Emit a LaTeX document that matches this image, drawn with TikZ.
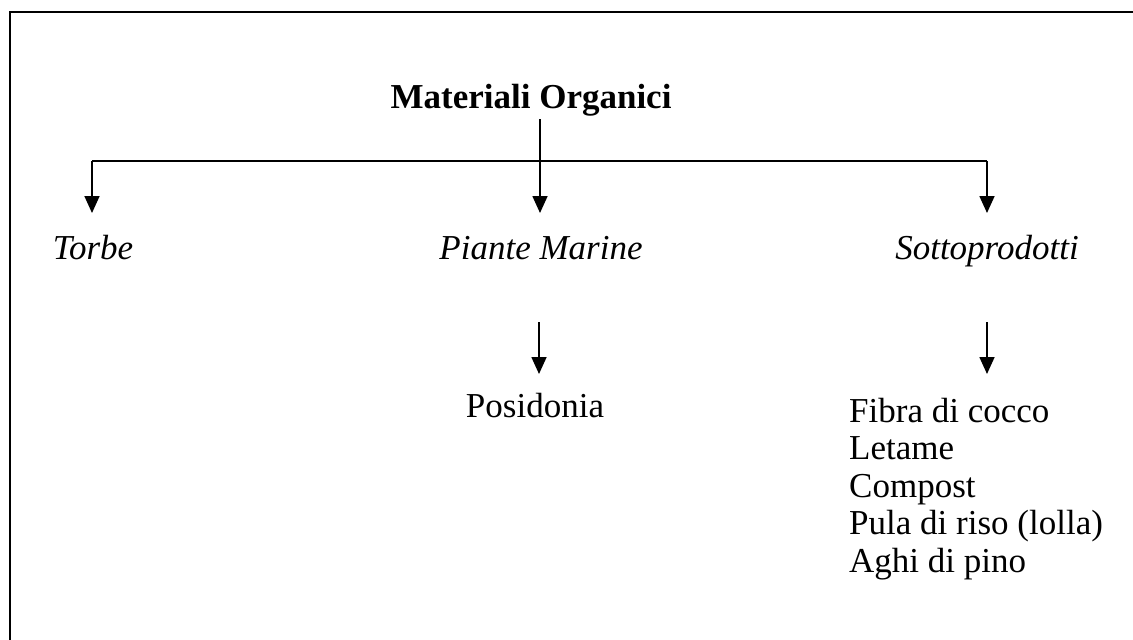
\documentclass[tikz,border=0pt]{standalone}
\usepackage{fontspec}
\setmainfont{Liberation Serif}
\usetikzlibrary{arrows.meta}
\begin{document}
\begin{tikzpicture}[x=1pt,y=-1pt,
  lbl/.style={inner sep=0pt,anchor=base,font=\fontsize{35}{37.5}\selectfont},
  lblw/.style={lbl,anchor=base west},
  conn/.style={line width=1.7pt,-{Triangle[width=15pt,length=17pt]}},
  plain/.style={line width=1.7pt},
  frame/.style={line width=2.6pt}]
\clip (0,0) rectangle (1133,640);
\draw[frame] (10,660) -- (10,12) -- (1160,12);
% title
\node[lbl,font=\fontsize{35}{37.5}\selectfont\bfseries] (title) at (531,108) {Materiali Organici};
% level 1
\node[lbl,font=\fontsize{35}{37.5}\selectfont\itshape] (torbe) at (93,259) {Torbe};
\node[lbl,font=\fontsize{35}{37.5}\selectfont\itshape] (piante) at (541,259) {Piante Marine};
\node[lbl,font=\fontsize{35}{37.5}\selectfont\itshape] (sotto) at (987,259) {Sottoprodotti};
% level 2
\node[lbl] (posid) at (535,417) {Posidonia};
\node[lblw] (l1) at (849,422) {Fibra di cocco};
\node[lblw] (l2) at (849,459.5) {Letame};
\node[lblw] (l3) at (849,497) {Compost};
\node[lblw] (l4) at (849,534.5) {Pula di riso (lolla)};
\node[lblw] (l5) at (849,572) {Aghi di pino};
% connector points
\coordinate (ts) at (540,119);
\coordinate (jl) at (92,161);
\coordinate (jr) at (987,161);
\coordinate (tl) at (92,213);
\coordinate (tm) at (540,213);
\coordinate (tr) at (987,213);
\coordinate (ps) at (539,322);
\coordinate (pe) at (539,374);
\coordinate (ss) at (987,322);
\coordinate (se) at (987,374);
\draw[plain] (jl) -- (jr);
\draw[conn] (ts) -- (tm);
\draw[conn] (jl) -- (tl);
\draw[conn] (jr) -- (tr);
\draw[conn] (ps) -- (pe);
\draw[conn] (ss) -- (se);
\end{tikzpicture}
\end{document}
